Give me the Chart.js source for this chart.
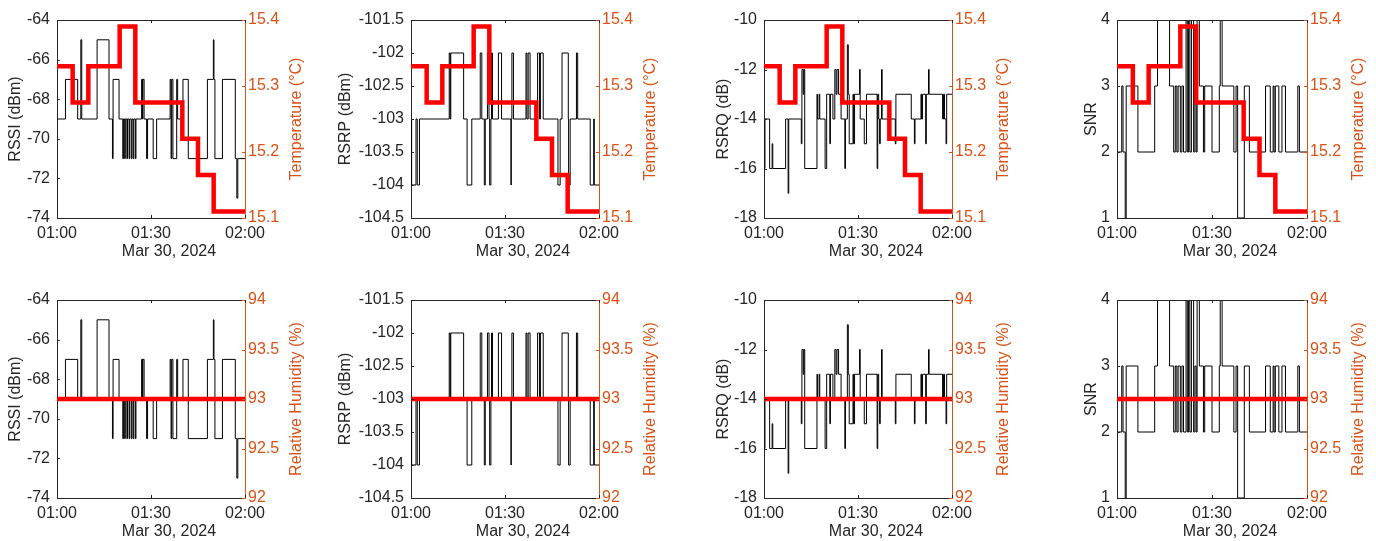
<!DOCTYPE html>
<html>
<head>
<meta charset="utf-8">
<script src="https://cdn.jsdelivr.net/npm/chart.js@4.4.1/dist/chart.umd.min.js"></script>
<style>
  html, body { margin: 0; padding: 0; background: #fff; }
  body { width: 1376px; height: 541px; position: relative; overflow: hidden; }
  canvas { position: absolute; }
</style>
</head>
<body>
<script>
const AXIS = '#262626';
const ORANGE = '#D95319';
const FONT = '"Liberation Sans", Arial, Helvetica, sans-serif';

Chart.defaults.font.family = FONT;
Chart.defaults.font.size = 16;
Chart.defaults.color = AXIS;

// x axis: minutes after 01:00
const timeLabels = ['01:00', '01:30', '02:00'];
const dateLabel = 'Mar 30, 2024';

// environment readings (5 min logger)
const tempTime = [0, 5, 10, 15, 20, 25, 30, 35, 40, 45, 50, 55, 60];
const tempValue = [15.33, 15.275, 15.33, 15.33, 15.39, 15.275, 15.275, 15.275, 15.22, 15.165, 15.11, 15.11, 15.11];
const humTime = [0, 60];
const humValue = [93, 93];

// modem readings
const rssiTime = [0, 2.7, 6.6, 7.6, 7.9, 12.8, 16.6, 17.7, 17.9, 19.8, 21.0, 21.2, 21.6, 21.8, 22.3, 22.5, 23.0, 23.2, 23.7, 23.9, 24.3, 24.5, 25.0, 25.2, 27.0, 27.3, 27.4, 27.8, 28.6, 28.9, 30.7, 31.8, 36.1, 36.4, 36.6, 37.0, 38.2, 38.5, 40.2, 41.9, 48.0, 49.9, 50.1, 50.4, 52.8, 56.9, 57.4, 57.7, 60];
const rssiValue = [-69, -67, -69, -65, -69, -65, -69, -71, -67, -69, -71, -69, -71, -69, -71, -69, -71, -69, -71, -69, -71, -69, -71, -69, -67, -69, -67, -69, -71, -69, -71, -69, -67, -71, -67, -71, -67, -69, -67, -71, -67, -65, -67, -71, -67, -71, -73, -71, -71];

const rsrpTime = [0, 0.2, 1.6, 2.0, 2.7, 12.2, 12.5, 12.7, 16.8, 17.9, 19.4, 22.1, 22.6, 23.4, 23.7, 24.4, 24.9, 25.1, 25.5, 25.7, 26.0, 27.9, 28.9, 31.9, 32.0, 32.2, 32.7, 36.7, 37.0, 37.4, 38.0, 40.4, 41.0, 41.3, 42.2, 46.9, 47.6, 48.2, 50.2, 50.3, 50.8, 52.8, 53.2, 57.2, 58.3, 58.5, 60];
const rsrpValue = [-103, -104, -103, -104, -103, -102, -103, -102, -103, -104, -103, -102, -103, -104, -103, -102, -103, -104, -103, -102, -103, -102, -103, -104, -103, -102, -103, -102, -103, -102, -103, -102, -103, -102, -103, -104, -103, -102, -103, -104, -103, -102, -103, -104, -103, -104, -104];

const rsrqTime = [0, 0.3, 1.8, 2.6, 2.8, 6.9, 7.7, 7.9, 11.9, 12.1, 12.5, 12.7, 13.0, 16.9, 17.1, 17.6, 17.8, 19.5, 20.0, 21.0, 21.2, 22.0, 22.6, 23.0, 23.3, 23.8, 24.6, 25.8, 26.0, 26.6, 26.9, 27.2, 28.4, 28.6, 28.9, 30.5, 30.7, 32.0, 32.7, 36.1, 36.3, 36.6, 36.9, 37.1, 37.5, 37.7, 41.9, 42.1, 47.0, 48.0, 48.2, 50.1, 50.3, 50.6, 51.6, 51.8, 52.5, 52.7, 57.0, 57.3, 57.6, 58.1, 58.3, 60];
const rsrqValue = [-16, -14, -16, -15, -16, -14, -17, -14, -15, -12, -13, -12, -16, -13, -14, -13, -14, -16, -13, -15, -13, -14, -12, -13, -12, -13, -14, -16, -14, -11, -13, -15, -13, -15, -13, -12, -14, -15, -13, -16, -13, -14, -15, -14, -12, -14, -15, -13, -14, -15, -14, -13, -14, -13, -15, -13, -12, -13, -14, -13, -14, -15, -13, -13];

const snrTime = [0, 1.5, 1.9, 2.6, 2.9, 6.6, 11.9, 12.8, 16.6, 17.9, 18.4, 18.9, 19.3, 20.0, 20.5, 21.0, 21.8, 22.2, 22.6, 23.0, 23.5, 24.2, 24.6, 25.0, 25.3, 26.0, 27.3, 27.7, 30.0, 32.3, 32.6, 33.2, 36.9, 37.6, 38.1, 40.2, 41.8, 46.9, 48.4, 49.3, 49.6, 50.0, 51.1, 52.1, 53.2, 57.1, 57.6, 60];
const snrValue = [2, 3, 2, 1, 3, 2, 3, 4, 3, 2, 3, 2, 3, 2, 3, 2, 4, 2, 4, 2, 4, 2, 3, 2, 4, 3, 2, 3, 2, 3, 4, 3, 2, 3, 1, 3, 2, 3, 2, 3, 2, 3, 2, 3, 2, 3, 2, 2];

const toPoints = (t, v) => t.map((x, i) => ({ x, y: v[i] }));
const fmt = v => String(+Number(v).toFixed(1));

// left-axis quantities, one per column
const signals = [
  { label: 'RSSI (dBm)', t: rssiTime, v: rssiValue, min: -74, max: -64, step: 2, gap: 37 },
  { label: 'RSRP (dBm)', t: rsrpTime, v: rsrpValue, min: -104.5, max: -101.5, step: 0.5, gap: 61 },
  { label: 'RSRQ (dB)', t: rsrqTime, v: rsrqValue, min: -18, max: -10, step: 2, gap: 36 },
  { label: 'SNR', t: snrTime, v: snrValue, min: 1, max: 4, step: 1, gap: 21 }
];
// right-axis quantities, one per row
const envs = [
  { label: 'Temperature (°C)', t: tempTime, v: tempValue, min: 15.1, max: 15.4, step: 0.1 },
  { label: 'Relative Humidity (%)', t: humTime, v: humValue, min: 92, max: 94, step: 0.5 }
];

const colLeft = [57, 411, 764, 1117];
const colWidth = [188, 188, 188, 190];
const rowTop = [20, 300];
const plotH = 198;
const padL = 75, padR = 66, padT = 20, padB = 50;

// MATLAB-style box: top edge, inward ticks, axis labels
const matlabAxes = {
  id: 'matlabAxes',
  afterDraw(chart, args, o) {
    const { ctx, chartArea: a } = chart;
    const { x, y, y1 } = chart.scales;
    const tl = 3;
    ctx.save();
    ctx.lineWidth = 1;
    ctx.strokeStyle = AXIS;
    ctx.beginPath();
    ctx.moveTo(a.left, a.top + 0.5);
    ctx.lineTo(a.right, a.top + 0.5);
    x.ticks.forEach(t => {
      const px = Math.round(x.getPixelForValue(t.value)) + 0.5;
      ctx.moveTo(px, a.bottom);
      ctx.lineTo(px, a.bottom - tl);
      ctx.moveTo(px, a.top);
      ctx.lineTo(px, a.top + tl);
    });
    y.ticks.forEach(t => {
      const py = Math.round(y.getPixelForValue(t.value)) + 0.5;
      ctx.moveTo(a.left, py);
      ctx.lineTo(a.left + tl, py);
    });
    ctx.stroke();
    ctx.strokeStyle = ORANGE;
    ctx.beginPath();
    y1.ticks.forEach(t => {
      const py = Math.round(y1.getPixelForValue(t.value)) + 0.5;
      ctx.moveTo(a.right, py);
      ctx.lineTo(a.right - tl, py);
    });
    ctx.stroke();

    ctx.font = '16px ' + FONT;
    ctx.textAlign = 'center';
    ctx.textBaseline = 'alphabetic';
    ctx.fillStyle = AXIS;
    ctx.fillText(dateLabel, (a.left + a.right) / 2 + 18, a.bottom + 38);
    const midY = (a.top + a.bottom) / 2;
    ctx.save();
    ctx.translate(a.left - o.leftGap, midY);
    ctx.rotate(-Math.PI / 2);
    ctx.fillText(o.leftTitle, 0, 0);
    ctx.restore();
    ctx.fillStyle = ORANGE;
    ctx.save();
    ctx.translate(a.right + 56, midY);
    ctx.rotate(-Math.PI / 2);
    ctx.fillText(o.rightTitle, 0, 0);
    ctx.restore();
    ctx.restore();
  }
};

envs.forEach((env, r) => {
  signals.forEach((sig, c) => {
    const canvas = document.createElement('canvas');
    canvas.width = padL + colWidth[c] + padR;
    canvas.height = padT + plotH + padB;
    canvas.style.left = (colLeft[c] - padL) + 'px';
    canvas.style.top = (rowTop[r] - padT) + 'px';
    document.body.appendChild(canvas);

    new Chart(canvas, {
      type: 'line',
      data: {
        datasets: [
          {
            data: toPoints(env.t, env.v),
            yAxisID: 'y1',
            borderColor: '#ff0000',
            borderWidth: 4.5,
            borderJoinStyle: 'miter',
            stepped: true,
            pointRadius: 0,
            clip: 0,
            order: 0
          },
          {
            data: toPoints(sig.t, sig.v),
            yAxisID: 'y',
            borderColor: '#000000',
            borderWidth: 1,
            stepped: true,
            pointRadius: 0,
            clip: 0,
            order: 1
          }
        ]
      },
      options: {
        responsive: false,
        animation: false,
        events: [],
        layout: { padding: { top: padT, left: 0, right: 0, bottom: 0 } },
        plugins: {
          legend: { display: false },
          tooltip: { enabled: false },
          matlabAxes: { leftTitle: sig.label, rightTitle: env.label, leftGap: sig.gap }
        },
        scales: {
          x: {
            type: 'linear',
            min: 0,
            max: 60,
            grid: { display: false, drawTicks: false },
            border: { color: AXIS, width: 1 },
            ticks: {
              stepSize: 30,
              padding: 6,
              maxRotation: 0,
              autoSkip: false,
              color: AXIS,
              callback: (v, i) => timeLabels[i]
            },
            afterFit: s => { s.height = padB; }
          },
          y: {
            position: 'left',
            min: sig.min,
            max: sig.max,
            grid: { display: false, drawTicks: false },
            border: { color: AXIS, width: 1 },
            ticks: { stepSize: sig.step, padding: 7, color: AXIS, callback: fmt },
            afterFit: s => { s.width = padL; }
          },
          y1: {
            position: 'right',
            min: env.min,
            max: env.max,
            grid: { display: false, drawTicks: false },
            border: { color: ORANGE, width: 1 },
            ticks: { stepSize: env.step, padding: 3, color: ORANGE, callback: fmt },
            afterFit: s => { s.width = padR; }
          }
        }
      },
      plugins: [matlabAxes]
    });
  });
});
</script>
</body>
</html>
